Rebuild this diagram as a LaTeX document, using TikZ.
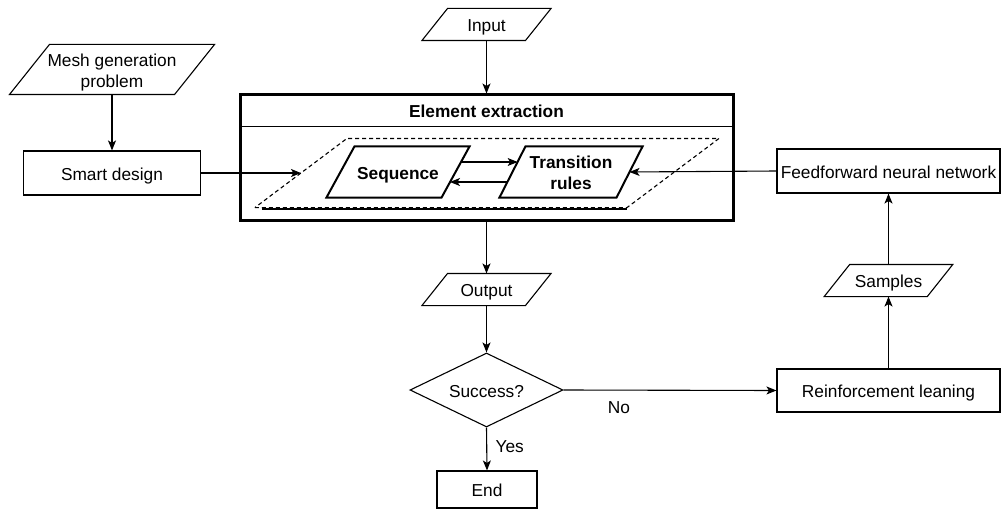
\documentclass[tikz,border=0pt]{standalone}
\usepackage{fontspec}
\setmainfont{Liberation Sans}
\usetikzlibrary{shapes.geometric,arrows.meta}

% Parallelogram outline around a (borderless) rectangular node:
% the node's width is the mean width, #3 is the horizontal slant.
\newcommand{\drawpara}[3][]{%
  \draw[#1] ([xshift=-#3/2]#2.south west) -- ([xshift=-#3/2]#2.south east)
    -- ([xshift=#3/2]#2.north east) -- ([xshift=#3/2]#2.north west) -- cycle;}

\begin{document}
\begin{tikzpicture}[x=1pt,y=-1pt,
  font=\fontsize{17.3}{20.5}\selectfont,
  line width=1.1pt,
  txt/.style={inner sep=0pt, align=center, text height=14.5pt, text depth=0pt},
  txttwo/.style={inner sep=0pt, align=center},
  pbox/.style={txt},
  rbox/.style={draw, txt},
  boldtxt/.style={font=\fontsize{17.3}{20.5}\selectfont\bfseries},
  arr/.style={-{Stealth[length=10pt,width=8pt,inset=2.5pt]}},
]
\fill[white] (0,0) rectangle (1002,511);
\useasboundingbox (0,0) rectangle (1002,511);

% --- left branch ---
\node[txttwo, minimum width=164pt, minimum height=49pt] (mesh) at (112,69.5) {};
\node[txttwo] (meshtext) at ([yshift=-3pt]mesh.center) {Mesh generation\\problem};
\drawpara{mesh}{40}
\node[rbox, minimum width=177pt, minimum height=44pt] (smart) at (112,173) {Smart design};

% --- element extraction block ---
\node[draw, line width=3pt, minimum width=493pt, minimum height=125pt] (ee) at (486.5,157.5) {};
\node[pbox, boldtxt, minimum width=493pt, minimum height=31pt] (eetitle) at (486.5,110.5) {Element extraction};
\draw[line width=1.6pt] (eetitle.south west) -- (eetitle.south east);

\node[minimum width=371pt, minimum height=68pt, inner sep=0pt] (dash) at (487,173) {};
\drawpara[dashed, dash pattern=on 4pt off 3pt]{dash}{92}
\draw[line width=2pt] ([xshift=-39pt,yshift=-1.5pt]dash.south west) -- ([xshift=-46pt,yshift=-1.5pt]dash.south east);

\node[pbox, boldtxt, minimum width=114pt, minimum height=50pt] (seq) at (398,172) {Sequence};
\drawpara[line width=2pt]{seq}{28}
\node[txttwo, boldtxt, minimum width=116pt, minimum height=50pt] (trans) at (571,172) {};
\node[txttwo, boldtxt] (transtext) at ([yshift=-1pt]trans.center) {Transition\\rules};
\drawpara[line width=2pt]{trans}{26}

% --- top input ---
\node[pbox, minimum width=102.4pt, minimum height=31pt] (input) at (486.5,24.5) {Input};
\drawpara{input}{25.6}

% --- lower part ---
\node[pbox, minimum width=102.4pt, minimum height=31pt] (output) at (486.5,289.5) {Output};
\drawpara{output}{25.6}
\node[draw, shape=diamond, aspect=2.07, txt, minimum width=153pt, minimum height=74pt]
  (dia) at (486.5,390) {Success?};
\node[rbox, minimum width=100pt, minimum height=37pt] (end) at (487,489.5) {End};

% --- right branch ---
\node[rbox, minimum width=223pt, minimum height=43pt] (rl) at (888.5,390.5) {Reinforcement leaning};
\node[pbox, minimum width=102pt, minimum height=31pt] (samples) at (888.5,280.5) {Samples};
\drawpara{samples}{25.5}
\node[rbox, minimum width=223pt, minimum height=44pt] (fnn) at (888.5,171) {Feedforward neural network};

% --- connectors ---
\draw[arr] (input.south) -- (ee.north);
\draw[arr] (mesh.south) -- (smart.north);
\draw[arr] (smart.east) -- (dash.west);
\draw[arr] ([xshift=5.6pt,yshift=10pt]seq.east) -- ([xshift=5.2pt,yshift=10pt]trans.west);
\draw[arr] ([xshift=-5.2pt,yshift=-10pt]trans.west) -- ([xshift=-5.6pt,yshift=-10pt]seq.east);
\draw[arr] (fnn.west) -- (trans.east);
\draw[arr] (ee.south) -- (output.north);
\draw[arr] (output.south) -- (dia.north);
\draw[arr] (dia.south) -- node[txt, pos=0.41, xshift=23pt] {Yes} (end.north);
\draw[arr] (dia.east) -- node[txt, pos=0.26, yshift=-16pt] {No} (rl.west);
\draw[arr] (rl.north) -- (samples.south);
\draw[arr] (samples.north) -- (fnn.south);
\end{tikzpicture}
\end{document}
